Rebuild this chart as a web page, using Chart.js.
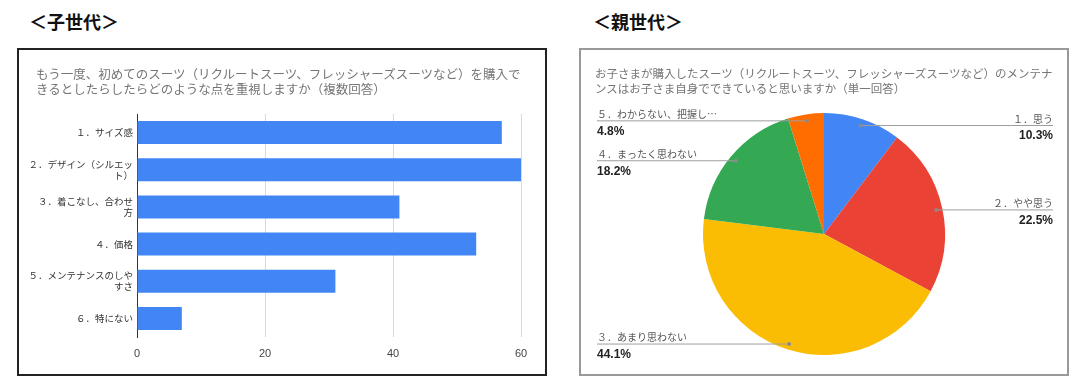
<!DOCTYPE html>
<html>
<head>
<meta charset="utf-8">
<script src="https://cdn.jsdelivr.net/npm/chart.js@4"></script>
<style>
  body { margin: 0; background: #fff; width: 1079px; height: 388px; position: relative; overflow: hidden; font-family: "Noto Sans CJK JP", sans-serif; }
  .head { position: absolute; top: 8px; font-size: 18px; font-weight: bold; color: #111; }
  .box { position: absolute; top: 48px; height: 328px; box-sizing: border-box; }
  #box1 { left: 17px; width: 530px; border: 2px solid #222; }
  #box2 { left: 579px; width: 490px; border: 2px solid #999; }
  .title { position: absolute; top: 66px; color: #757575; line-height: 15px; white-space: nowrap; }
  canvas { display: block; }
</style>
</head>
<body>
<div class="head" style="left:29px">＜子世代＞</div>
<div class="head" style="left:593px">＜親世代＞</div>
<div class="box" id="box1"><canvas id="bar" width="526" height="324"></canvas></div>
<div class="box" id="box2"><canvas id="pie" width="486" height="324"></canvas></div>
<div class="title" id="t1" style="left:36px; font-size:12.5px"></div>
<div class="title" id="t2" style="left:595px; font-size:11.5px"></div>
<script>
const barTitle = [
  'もう一度、初めてのスーツ（リクルートスーツ、フレッシャーズスーツなど）を購入で',
  'きるとしたらしたらどのような点を重視しますか（複数回答）'
];
const barCategories = [
  '１．サイズ感',
  ['２．デザイン（シルエッ', 'ト）'],
  ['３．着こなし、合わせ', '方'],
  '４．価格',
  ['５．メンテナンスのしや', 'すさ'],
  '６．特にない'
];
const barValues = [57, 60, 41, 53, 31, 7];
const barTicks = [0, 20, 40, 60];

const pieTitle = [
  'お子さまが購入したスーツ（リクルートスーツ、フレッシャーズスーツなど）のメンテナ',
  'ンスはお子さま自身でできていると思いますか（単一回答）'
];
const pieLabels = ['１．思う', '２．やや思う', '３．あまり思わない', '４．まったく思わない', '５．わからない、把握し…'];
const pieValues = [10.3, 22.5, 44.1, 18.2, 4.8];
const pieColors = ['#4285F4', '#EA4335', '#FBBC04', '#34A853', '#FF6D01'];

const jp = '"Noto Sans CJK JP", sans-serif';
const latin = '"Liberation Sans", Arial, sans-serif';

// chart titles as plain text lines
function fillTitle(id, lines) {
  const el = document.getElementById(id);
  lines.forEach((line, i) => {
    if (i) el.appendChild(document.createElement('br'));
    el.appendChild(document.createTextNode(line));
  });
}
fillTitle('t1', barTitle);
fillTitle('t2', pieTitle);

Chart.defaults.animation = false;

new Chart(document.getElementById('bar'), {
  type: 'bar',
  data: {
    labels: barCategories,
    datasets: [{
      data: barValues,
      backgroundColor: '#4285F4',
      categoryPercentage: 1,
      barPercentage: 0.62
    }]
  },
  options: {
    indexAxis: 'y',
    responsive: false,
    layout: { padding: { left: 0, right: 24, top: 64, bottom: 0 } },
    plugins: {
      legend: { display: false },
      tooltip: { enabled: false }
    },
    scales: {
      x: {
        min: 0,
        max: 60,
        afterBuildTicks: s => { s.ticks = barTicks.map(v => ({ value: v })); },
        afterFit: s => { s.height = 37; },
        grid: {
          color: c => (c.tick && c.tick.value === 0) ? '#333' : '#d9d9d9',
          drawTicks: false
        },
        border: { display: false },
        ticks: { color: '#444', padding: 10, font: { family: latin, size: 11 } }
      },
      y: {
        afterFit: s => { s.width = 118; },
        grid: { display: false, drawTicks: false },
        border: { display: true, color: '#333', width: 1 },
        ticks: { color: '#333', padding: 4, font: { family: jp, size: 9.5, lineHeight: 1.15 } }
      }
    }
  }
});

const pieCallouts = {
  id: 'pieCallouts',
  afterDatasetsDraw(chart) {
    const ctx = chart.ctx;
    const area = chart.chartArea;
    const meta = chart.getDatasetMeta(0);
    meta.data.forEach((arc, i) => {
      const mid = (arc.startAngle + arc.endAngle) / 2;
      const r = arc.outerRadius * 0.95;
      const dx = arc.x + Math.cos(mid) * r;
      const dy = arc.y + Math.sin(mid) * r;
      const right = Math.cos(mid) > 0;
      const ex = right ? area.right : area.left + 2;
      ctx.save();
      ctx.strokeStyle = '#9e9e9e';
      ctx.lineWidth = 1;
      ctx.beginPath();
      ctx.moveTo(dx, dy + 0.5);
      ctx.lineTo(ex, dy + 0.5);
      ctx.stroke();
      ctx.fillStyle = '#8a8a8a';
      ctx.beginPath();
      ctx.arc(dx, dy + 0.5, 2, 0, Math.PI * 2);
      ctx.fill();
      ctx.textAlign = right ? 'right' : 'left';
      ctx.textBaseline = 'middle';
      ctx.fillStyle = '#555';
      ctx.font = '10px ' + jp;
      ctx.fillText(pieLabels[i], ex, dy - 6);
      ctx.fillStyle = '#222';
      ctx.font = 'bold 12px ' + latin;
      ctx.fillText(pieValues[i].toFixed(1) + '%', ex, dy + 11);
      ctx.restore();
    });
  }
};

new Chart(document.getElementById('pie'), {
  type: 'pie',
  data: {
    labels: pieLabels,
    datasets: [{
      data: pieValues,
      backgroundColor: pieColors,
      borderWidth: 0,
      radius: 121
    }]
  },
  options: {
    responsive: false,
    layout: { padding: { left: 14, right: 14, top: 46, bottom: 2 } },
    plugins: {
      legend: { display: false },
      tooltip: { enabled: false }
    }
  },
  plugins: [pieCallouts]
});
</script>
</body>
</html>
